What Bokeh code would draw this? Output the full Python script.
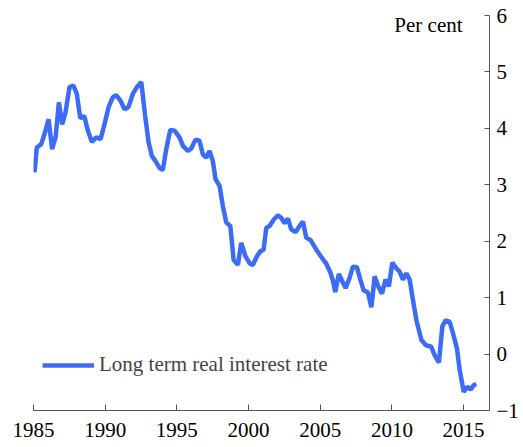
from bokeh.plotting import figure
from bokeh.models import Range1d, LinearAxis, FixedTicker, Label, Legend, LegendItem, ColumnDataSource
from bokeh.embed import file_html
from bokeh.resources import INLINE

years = [1985.07, 1985.23, 1985.54, 1985.77, 1986.05, 1986.30, 1986.54, 1986.77, 1987.00, 1987.23,
         1987.51, 1987.79, 1988.02, 1988.26, 1988.54, 1988.79, 1989.07, 1989.38, 1989.68, 1989.95,
         1990.23, 1990.53, 1990.77, 1991.07, 1991.35, 1991.63, 1991.93, 1992.21, 1992.52, 1992.79,
         1993.03, 1993.26, 1993.51, 1993.79, 1994.02, 1994.26, 1994.54, 1994.84, 1995.19, 1995.42,
         1995.77, 1996.00, 1996.30, 1996.58, 1996.81, 1997.05, 1997.28, 1997.51, 1997.70, 1997.98,
         1998.21, 1998.45, 1998.73, 1998.96, 1999.26, 1999.49, 1999.79, 2000.07, 2000.30, 2000.58,
         2000.82, 2001.05, 2001.24, 2001.47, 2001.75, 2002.05, 2002.29, 2002.52, 2002.75, 2002.98,
         2003.28, 2003.56, 2003.79, 2004.03, 2004.33, 2004.73, 2005.08, 2005.43, 2005.70, 2005.89,
         2006.05, 2006.30, 2006.54, 2006.77, 2007.05, 2007.28, 2007.56, 2007.80, 2008.03, 2008.33,
         2008.57, 2008.80, 2009.05, 2009.31, 2009.56, 2009.79, 2010.03, 2010.31, 2010.54, 2010.77,
         2011.01, 2011.24, 2011.47, 2011.71, 2012.06, 2012.36, 2012.75, 2012.98, 2013.28, 2013.52,
         2013.75, 2014.03, 2014.26, 2014.54, 2014.73, 2015.01, 2015.26, 2015.50, 2015.71, 2015.89]

rates = [3.22, 3.66, 3.72, 3.90, 4.16, 3.63, 3.84, 4.46, 4.07, 4.28,
         4.73, 4.76, 4.61, 4.18, 4.22, 3.96, 3.76, 3.84, 3.81, 4.07,
         4.37, 4.55, 4.59, 4.49, 4.34, 4.38, 4.61, 4.73, 4.82, 4.22,
         3.75, 3.51, 3.42, 3.30, 3.26, 3.63, 3.97, 3.96, 3.84, 3.69,
         3.60, 3.64, 3.80, 3.78, 3.54, 3.48, 3.60, 3.42, 3.10, 2.98,
         2.62, 2.33, 2.27, 1.67, 1.58, 1.97, 1.73, 1.61, 1.58, 1.73,
         1.82, 1.85, 2.24, 2.27, 2.38, 2.46, 2.41, 2.32, 2.40, 2.21,
         2.16, 2.27, 2.35, 2.06, 2.02, 1.85, 1.72, 1.60, 1.45, 1.30,
         1.10, 1.42, 1.29, 1.17, 1.35, 1.55, 1.54, 1.32, 1.13, 1.09,
         0.83, 1.38, 1.20, 1.07, 1.32, 1.20, 1.62, 1.52, 1.46, 1.32,
         1.43, 1.32, 0.96, 0.60, 0.25, 0.16, 0.13, -0.02, -0.15, 0.49,
         0.60, 0.57, 0.37, 0.10, -0.28, -0.67, -0.58, -0.63, -0.55, -0.53]

x_ticks = [1985, 1990, 1995, 2000, 2005, 2010, 2015]
y_ticks = [-1, 0, 1, 2, 3, 4, 5, 6]
series_name = "Long term real interest rate"
unit_label = "Per cent"

FONT = "Liberation Serif"
FS = "21px"

p = figure(width=522, height=445, output_backend="svg", toolbar_location=None,
           x_range=Range1d(1985, 2016.81), y_range=Range1d(-1, 6),
           x_axis_location=None, y_axis_location=None,
           min_border_left=33, min_border_top=15, min_border_right=33, min_border_bottom=35)
p.outline_line_color = None
p.xgrid.visible = False
p.ygrid.visible = False
p.background_fill_color = None

src = ColumnDataSource(dict(x=years, y=rates))
r = p.line("x", "y", source=src, line_color="#3c6cf6", line_width=4.5)

xaxis = LinearAxis(ticker=FixedTicker(ticks=x_ticks))
xaxis.major_tick_in = 6
xaxis.major_tick_out = 0
xaxis.minor_tick_line_color = None
xaxis.major_label_standoff = 12
xaxis.major_label_text_font = FONT
xaxis.major_label_text_font_size = FS
xaxis.major_label_text_color = "black"
xaxis.axis_line_color = "#555555"
xaxis.major_tick_line_color = "#555555"
p.add_layout(xaxis, "below")

yaxis = LinearAxis(ticker=FixedTicker(ticks=y_ticks))
yaxis.major_tick_in = 5
yaxis.major_tick_out = 0
yaxis.minor_tick_line_color = None
yaxis.major_label_standoff = 7
yaxis.major_label_text_font = FONT
yaxis.major_label_text_font_size = FS
yaxis.major_label_text_color = "black"
yaxis.axis_line_color = "#555555"
yaxis.major_tick_line_color = "#555555"
p.add_layout(yaxis, "right")

p.add_layout(Label(x=2014.93, y=5.84, text=unit_label, text_align="right",
                   text_baseline="alphabetic", text_font=FONT, text_font_size=FS,
                   text_color="black"))

legend = Legend(items=[LegendItem(label=series_name, renderers=[r])],
                location=(9, 33), padding=0, margin=0, spacing=0,
                glyph_width=52, glyph_height=20, label_height=20, label_standoff=5,
                label_text_font=FONT, label_text_font_size=FS,
                border_line_color=None, background_fill_alpha=0)
p.add_layout(legend)

open("out.html", "w").write(file_html(p, INLINE))
